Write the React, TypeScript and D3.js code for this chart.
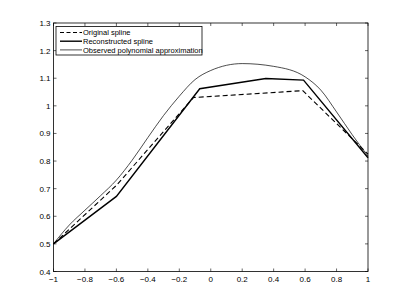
import React, { useRef, useEffect } from "react";
import * as d3 from "d3";

// series
const originalX = [-1, -0.6, -0.11, 0.585, 1];
const originalY = [0.5, 0.712, 1.03, 1.055, 0.825];

const reconX = [-1, -0.6, -0.07, 0.35, 0.59, 1];
const reconY = [0.5, 0.672, 1.062, 1.099, 1.093, 0.812];

const polyX = [-1, -0.9, -0.8, -0.7, -0.6, -0.5, -0.4, -0.3, -0.2, -0.1, 0, 0.2, 0.4, 0.6, 0.7, 0.8, 0.9, 1];
const polyY = [0.5, 0.568, 0.622, 0.675, 0.731, 0.803, 0.885, 0.965, 1.035, 1.095, 1.128, 1.153, 1.143, 1.105, 1.057, 0.978, 0.895, 0.818];

const xTicks = [-1, -0.8, -0.6, -0.4, -0.2, 0, 0.2, 0.4, 0.6, 0.8, 1];
const yTicks = [0.4, 0.5, 0.6, 0.7, 0.8, 0.9, 1, 1.1, 1.2, 1.3];

const legendLabels = ["Original spline", "Reconstructed spline", "Observed polynomial approximation"];

const W = 407;
const H = 305;
const M = { left: 53.5, right: 39, top: 23, bottom: 33.5 };

const App: React.FC = () => {
  const svgRef = useRef<SVGSVGElement>(null);

  useEffect(() => {
    const svg = d3.select(svgRef.current);
    svg.selectAll("*").remove();

    const x = d3.scaleLinear().domain([-1, 1]).range([M.left, W - M.right]);
    const y = d3.scaleLinear().domain([0.4, 1.3]).range([H - M.bottom, M.top]);

    svg.append("rect").attr("width", W).attr("height", H).attr("fill", "#fff");

    const font = "Liberation Sans, Arial, Helvetica, sans-serif";
    const tl = 3;

    // box
    svg
      .append("rect")
      .attr("x", x(-1))
      .attr("y", y(1.3))
      .attr("width", x(1) - x(-1))
      .attr("height", y(0.4) - y(1.3))
      .attr("fill", "none")
      .attr("stroke", "#000")
      .attr("stroke-width", 0.8);

    // ticks inward on all four sides
    const g = svg.append("g").attr("stroke", "#000").attr("stroke-width", 0.6);
    xTicks.forEach((t) => {
      g.append("line").attr("x1", x(t)).attr("x2", x(t)).attr("y1", y(0.4)).attr("y2", y(0.4) - tl);
      g.append("line").attr("x1", x(t)).attr("x2", x(t)).attr("y1", y(1.3)).attr("y2", y(1.3) + tl);
    });
    yTicks.forEach((t) => {
      g.append("line").attr("x1", x(-1)).attr("x2", x(-1) + tl).attr("y1", y(t)).attr("y2", y(t));
      g.append("line").attr("x1", x(1)).attr("x2", x(1) - tl).attr("y1", y(t)).attr("y2", y(t));
    });

    svg
      .append("g")
      .selectAll("text")
      .data(xTicks)
      .enter()
      .append("text")
      .attr("x", (d) => x(d))
      .attr("y", y(0.4) + 10)
      .attr("text-anchor", "middle")
      .style("font-family", font)
      .style("font-size", "8px")
      .text((d) => (d < 0 ? "\u2212" + String(-d) : String(d)));

    svg
      .append("g")
      .selectAll("text")
      .data(yTicks)
      .enter()
      .append("text")
      .attr("x", x(-1) - 3)
      .attr("y", (d) => y(d) + 3)
      .attr("text-anchor", "end")
      .style("font-family", font)
      .style("font-size", "8px")
      .text((d) => String(d));

    const line = d3
      .line<[number, number]>()
      .x((d) => x(d[0]))
      .y((d) => y(d[1]));

    const poly = polyX.map((v, i) => [v, polyY[i]] as [number, number]);
    const orig = originalX.map((v, i) => [v, originalY[i]] as [number, number]);
    const recon = reconX.map((v, i) => [v, reconY[i]] as [number, number]);

    svg
      .append("path")
      .attr("d", line.curve(d3.curveMonotoneX)(poly))
      .attr("fill", "none")
      .attr("stroke", "#000")
      .attr("stroke-width", 0.7);

    svg
      .append("path")
      .attr("d", line.curve(d3.curveLinear)(orig))
      .attr("fill", "none")
      .attr("stroke", "#000")
      .attr("stroke-width", 1.1)
      .attr("stroke-dasharray", "5,3");

    svg
      .append("path")
      .attr("d", line.curve(d3.curveLinear)(recon))
      .attr("fill", "none")
      .attr("stroke", "#000")
      .attr("stroke-width", 1.4);

    // legend
    const lx = 56;
    const ly = 26.5;
    const leg = svg.append("g");
    leg
      .append("rect")
      .attr("x", lx)
      .attr("y", ly)
      .attr("width", 146)
      .attr("height", 28.5)
      .attr("fill", "#fff")
      .attr("stroke", "#000")
      .attr("stroke-width", 0.8);
    const styles = [
      { w: 1.1, dash: "4,2.5" },
      { w: 1.4, dash: null },
      { w: 0.7, dash: null },
    ];
    legendLabels.forEach((lab, i) => {
      const yy = ly + 6 + i * 8.7;
      const ln = leg
        .append("line")
        .attr("x1", lx + 4)
        .attr("x2", lx + 26)
        .attr("y1", yy)
        .attr("y2", yy)
        .attr("stroke", "#000")
        .attr("stroke-width", styles[i].w);
      if (styles[i].dash) ln.attr("stroke-dasharray", styles[i].dash);
      leg
        .append("text")
        .attr("x", lx + 27)
        .attr("y", yy + 2.7)
        .style("font-family", font)
        .style("font-size", "7.5px")
        .text(lab);
    });
  }, []);

  return <svg ref={svgRef} width={W} height={H} style={{ display: "block", margin: "-8px" }}></svg>;
};

export default App;
